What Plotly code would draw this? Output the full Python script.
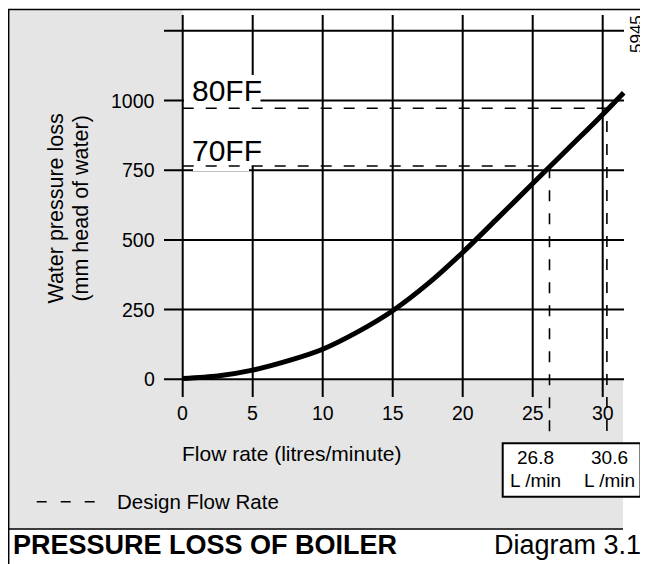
import plotly.graph_objects as go

# ---------------- data ----------------
flow_rate = [0, 2.5, 5, 7.5, 10, 12.5, 15, 17.5, 20, 22.5, 25, 27.5, 30, 31.5]        # litres/minute
pressure_loss = [3, 12, 33, 66, 108, 170, 246, 342, 455, 578, 702, 826, 950, 1028]   # mm head of water

x_ticks = [0, 5, 10, 15, 20, 25, 30]
y_ticks = [0, 250, 500, 750, 1000]
y_grid = [0, 250, 500, 750, 1000, 1250]

boiler_models = ["70FF", "80FF"]
design_flow_label = ["26.8", "30.6"]       # printed design flow rates (L/min)
design_flow_drawn = [26.2, 30.3]           # where the dashed lines sit on the chart
design_loss = [765, 972]                   # mm head of water

# ---------------- pixel <-> data helpers for the decorations ----------------
# (pixel values are window pixels; the page body adds an 8px margin)
PAGE_MARGIN = 8
WIN_W, WIN_H = 648, 564
W, H = WIN_W - PAGE_MARGIN, WIN_H - PAGE_MARGIN
X0PX, XSCALE = 182.7, 14.0      # window px of x=0, px per litre/min
Y0PX, YSCALE = 379.3, 0.2788    # window px of y=0, px per mm


def dx(px):
    return (px - X0PX) / XSCALE


def dy(py):
    return (Y0PX - py) / YSCALE


FONT = "Liberation Sans, Arial, Helvetica, sans-serif"
GREY = "#e5e5e5"

fig = go.Figure()

shapes = []
# grey background panels
shapes.append(dict(type="rect", xref="x", yref="y", x0=dx(9.2), x1=0, y0=dy(528.5), y1=dy(10.3),
                   fillcolor=GREY, line=dict(width=0), layer="below"))
shapes.append(dict(type="rect", xref="x", yref="y", x0=dx(9.2), x1=dx(623), y0=dy(528.5), y1=0,
                   fillcolor=GREY, line=dict(width=0), layer="below"))
# grid lines
for xv in x_ticks:
    shapes.append(dict(type="line", xref="x", yref="y", x0=xv, x1=xv, y0=dy(397), y1=dy(15),
                       line=dict(color="black", width=2), layer="below"))
for yv in y_grid:
    shapes.append(dict(type="line", xref="x", yref="y", x0=dx(164), x1=dx(624), y0=yv, y1=yv,
                       line=dict(color="black", width=2), layer="below"))
# white label backgrounds
shapes.append(dict(type="rect", xref="x", yref="y", x0=dx(184), x1=dx(260.5), y0=dy(166), y1=dy(75),
                   fillcolor="white", line=dict(width=0), layer="below"))
shapes.append(dict(type="rect", xref="x", yref="y", x0=dx(193), x1=dx(249), y0=dy(171), y1=dy(160),
                   fillcolor="white", line=dict(width=0), layer="below"))
# design flow box
shapes.append(dict(type="rect", xref="x", yref="y", x0=dx(502.7), x1=dx(640.5), y0=dy(496.7), y1=dy(443.3),
                   fillcolor="white", line=dict(color="black", width=2), layer="above"))
# frame lines
shapes.append(dict(type="line", xref="x", yref="y", x0=dx(8), x1=dx(648), y0=dy(9.5), y1=dy(9.5),
                   line=dict(color="black", width=1.5), layer="above"))
shapes.append(dict(type="line", xref="x", yref="y", x0=dx(8.7), x1=dx(8.7), y0=dy(9), y1=dy(564),
                   line=dict(color="black", width=1.5), layer="above"))
shapes.append(dict(type="line", xref="x", yref="y", x0=dx(8), x1=dx(623), y0=dy(529), y1=dy(529),
                   line=dict(color="black", width=1.5), layer="above"))

# pressure loss curve
fig.add_trace(go.Scatter(x=flow_rate, y=pressure_loss, mode="lines",
                         line=dict(color="black", width=5, shape="spline", smoothing=0.8),
                         hoverinfo="skip", showlegend=False))

# design flow dashed lines
for fx, ly in zip(design_flow_drawn, design_loss):
    fig.add_trace(go.Scatter(x=[0, fx, fx], y=[ly, ly, dy(443)], mode="lines",
                             line=dict(color="black", width=1.6, dash="11px,12px"),
                             hoverinfo="skip", showlegend=False))

# legend sample
fig.add_trace(go.Scatter(x=[dx(36.7), dx(95)], y=[dy(501.7), dy(501.7)], mode="lines",
                         line=dict(color="black", width=1.6, dash="10px,14px"),
                         hoverinfo="skip", showlegend=False, name="Design Flow Rate"))

ann = []
for v in y_ticks:
    ann.append(dict(x=dx(157), y=v, text=str(v), xanchor="right", yanchor="middle",
                    showarrow=False, font=dict(size=19.5, color="black", family=FONT)))
for v in x_ticks:
    ann.append(dict(x=v, y=dy(413), text=str(v), xanchor="center", yanchor="middle",
                    showarrow=False, font=dict(size=19.5, color="black", family=FONT)))

ann.append(dict(x=dx(180), y=dy(453), text="Flow rate (litres/minute)", xanchor="left", yanchor="middle",
                showarrow=False, font=dict(size=21, color="black", family=FONT)))
ann.append(dict(x=dx(55.6), y=dy(209), text="Water pressure loss", textangle=-90,
                xanchor="center", yanchor="middle", showarrow=False,
                font=dict(size=21.5, color="black", family=FONT)))
ann.append(dict(x=dx(80.6), y=dy(209), text="(mm head of water)", textangle=-90,
                xanchor="center", yanchor="middle", showarrow=False,
                font=dict(size=21.5, color="black", family=FONT)))

# model labels
label_py = {"80FF": 90, "70FF": 150}
for m in boiler_models:
    ann.append(dict(x=dx(189.5), y=dy(label_py[m]), text=m, xanchor="left", yanchor="middle",
                    showarrow=False, font=dict(size=30, color="black", family=FONT)))

# design flow box labels
box_cx = [535, 609]
for lab, cx in zip(design_flow_label, box_cx):
    ann.append(dict(x=dx(cx), y=dy(457), text=lab, xanchor="center", yanchor="middle",
                    showarrow=False, font=dict(size=19, color="black", family=FONT)))
    ann.append(dict(x=dx(cx), y=dy(480), text="L /min", xanchor="center", yanchor="middle",
                    showarrow=False, font=dict(size=19, color="black", family=FONT)))

ann.append(dict(x=dx(636), y=dy(34), text="5945", textangle=-90, xanchor="center", yanchor="middle",
                showarrow=False, font=dict(size=17, color="black", family=FONT)))

ann.append(dict(x=dx(115), y=dy(501.7), text="Design Flow Rate", xanchor="left", yanchor="middle",
                showarrow=False, font=dict(size=20.5, color="black", family=FONT)))

ann.append(dict(x=dx(11), y=dy(545), text="<b>PRESSURE LOSS OF BOILER</b>", xanchor="left", yanchor="middle",
                showarrow=False, font=dict(size=27, color="black", family=FONT)))
ann.append(dict(x=dx(643), y=dy(545), text="Diagram 3.1", xanchor="right", yanchor="middle",
                showarrow=False, font=dict(size=27, color="black", family=FONT)))

fig.update_layout(
    width=W, height=H,
    margin=dict(l=0, r=0, t=0, b=0),
    paper_bgcolor="white", plot_bgcolor="white",
    xaxis=dict(range=[dx(PAGE_MARGIN), dx(WIN_W)], visible=False, fixedrange=True),
    yaxis=dict(range=[dy(WIN_H), dy(PAGE_MARGIN)], visible=False, fixedrange=True),
    shapes=shapes, annotations=ann, showlegend=False,
)

fig.write_html("out.html")
